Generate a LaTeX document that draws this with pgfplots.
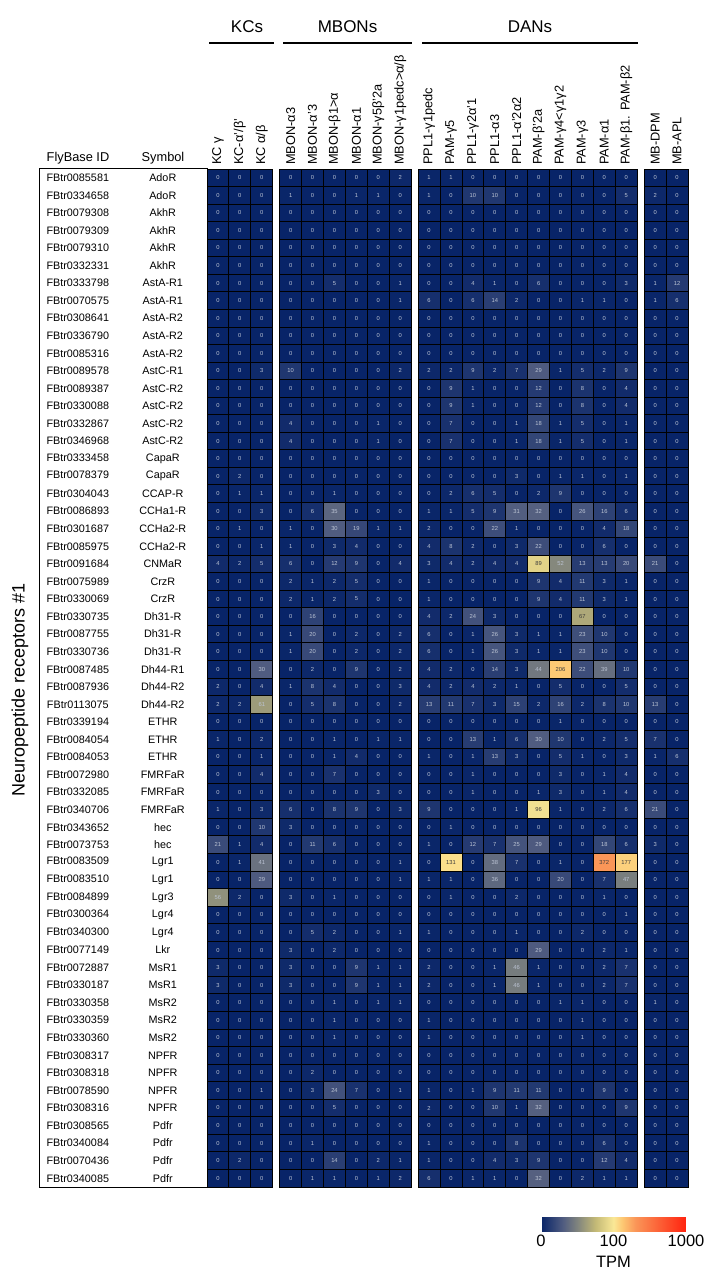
\documentclass[border=0pt]{standalone}
\usepackage{pgfplots}
\pgfplotsset{compat=1.18}
\usepackage{pgfplotstable}
\usepackage{fontspec}
\setmainfont{Liberation Sans}

\definecolor{celllight}{RGB}{188,196,212}
\definecolor{celldark}{RGB}{60,60,60}
\pgfplotsset{colormap={tpm}{[1pt] rgb255(0pt)=(8,36,104); rgb255(30pt)=(80,92,128); rgb255(50pt)=(128,132,126); rgb255(75pt)=(195,185,118); rgb255(100pt)=(250,232,150); rgb255(112pt)=(253,200,115); rgb255(130pt)=(250,150,88); rgb255(200pt)=(255,35,15)}}

\newcommand{\rl}[2]{\makebox[82pt][c]{#1}\makebox[88pt][c]{#2}}
\pgfdeclareplotmark{cell}{\pgfpathrectangle{\pgfpoint{-10.95pt}{-8.776pt}}{\pgfpoint{21.9pt}{17.552pt}}\pgfusepathqfillstroke}

% c0-c2: KCs; c3-c8: MBONs; c9-c18: DANs; c19-c20: MB-DPM, MB-APL
\pgfplotstableread{
id sym c0 c1 c2 c3 c4 c5 c6 c7 c8 c9 c10 c11 c12 c13 c14 c15 c16 c17 c18 c19 c20
FBtr0085581 AdoR 0 0 0 0 0 0 0 0 2 1 1 0 0 0 0 0 0 0 0 0 0
FBtr0334658 AdoR 0 0 0 1 0 0 1 1 0 1 0 10 10 0 0 0 0 0 5 2 0
FBtr0079308 AkhR 0 0 0 0 0 0 0 0 0 0 0 0 0 0 0 0 0 0 0 0 0
FBtr0079309 AkhR 0 0 0 0 0 0 0 0 0 0 0 0 0 0 0 0 0 0 0 0 0
FBtr0079310 AkhR 0 0 0 0 0 0 0 0 0 0 0 0 0 0 0 0 0 0 0 0 0
FBtr0332331 AkhR 0 0 0 0 0 0 0 0 0 0 0 0 0 0 0 0 0 0 0 0 0
FBtr0333798 AstA-R1 0 0 0 0 0 5 0 0 1 0 0 4 1 0 6 0 0 0 3 1 12
FBtr0070575 AstA-R1 0 0 0 0 0 0 0 0 1 6 0 6 14 2 0 0 1 1 0 1 6
FBtr0308641 AstA-R2 0 0 0 0 0 0 0 0 0 0 0 0 0 0 0 0 0 0 0 0 0
FBtr0336790 AstA-R2 0 0 0 0 0 0 0 0 0 0 0 0 0 0 0 0 0 0 0 0 0
FBtr0085316 AstA-R2 0 0 0 0 0 0 0 0 0 0 0 0 0 0 0 0 0 0 0 0 0
FBtr0089578 AstC-R1 0 0 3 10 0 0 0 0 2 2 2 9 2 7 29 1 5 2 9 0 0
FBtr0089387 AstC-R2 0 0 0 0 0 0 0 0 0 0 9 1 0 0 12 0 8 0 4 0 0
FBtr0330088 AstC-R2 0 0 0 0 0 0 0 0 0 0 9 1 0 0 12 0 8 0 4 0 0
FBtr0332867 AstC-R2 0 0 0 4 0 0 0 1 0 0 7 0 0 1 18 1 5 0 1 0 0
FBtr0346968 AstC-R2 0 0 0 4 0 0 0 1 0 0 7 0 0 1 18 1 5 0 1 0 0
FBtr0333458 CapaR 0 0 0 0 0 0 0 0 0 0 0 0 0 0 0 0 0 0 0 0 0
FBtr0078379 CapaR 0 2 0 0 0 0 0 0 0 0 0 0 0 3 0 1 1 0 1 0 0
FBtr0304043 CCAP-R 0 1 1 0 0 1 0 0 0 0 2 6 5 0 2 9 0 0 0 0 0
FBtr0086893 CCHa1-R 0 0 3 0 6 35 0 0 0 1 1 5 9 31 32 0 26 16 6 0 0
FBtr0301687 CCHa2-R 0 1 0 1 0 30 19 1 1 2 0 0 22 1 0 0 0 4 18 0 0
FBtr0085975 CCHa2-R 0 0 1 1 0 3 4 0 0 4 8 2 0 3 22 0 0 6 0 0 0
FBtr0091684 CNMaR 4 2 5 6 0 12 9 0 4 3 4 2 4 4 89 52 13 13 20 21 0
FBtr0075989 CrzR 0 0 0 2 1 2 5 0 0 1 0 0 0 0 9 4 11 3 1 0 0
FBtr0330069 CrzR 0 0 0 2 1 2 5 0 0 1 0 0 0 0 9 4 11 3 1 0 0
FBtr0330735 Dh31-R 0 0 0 0 16 0 0 0 0 4 2 24 3 0 0 0 67 0 0 0 0
FBtr0087755 Dh31-R 0 0 0 1 20 0 2 0 2 6 0 1 26 3 1 1 23 10 0 0 0
FBtr0330736 Dh31-R 0 0 0 1 20 0 2 0 2 6 0 1 26 3 1 1 23 10 0 0 0
FBtr0087485 Dh44-R1 0 0 30 0 2 0 9 0 2 4 2 0 14 3 44 206 22 39 10 0 0
FBtr0087936 Dh44-R2 2 0 4 1 8 4 0 0 3 4 2 4 2 1 0 5 0 0 5 0 0
FBtr0113075 Dh44-R2 2 2 61 0 5 8 0 0 2 13 11 7 3 15 2 16 2 8 10 13 0
FBtr0339194 ETHR 0 0 0 0 0 0 0 0 0 0 0 0 0 0 0 1 0 0 0 0 0
FBtr0084054 ETHR 1 0 2 0 0 1 0 1 1 0 0 13 1 6 30 10 0 2 5 7 0
FBtr0084053 ETHR 0 0 1 0 0 1 4 0 0 1 0 1 13 3 0 5 1 0 3 1 6
FBtr0072980 FMRFaR 0 0 4 0 0 7 0 0 0 0 0 1 0 0 0 3 0 1 4 0 0
FBtr0332085 FMRFaR 0 0 0 0 0 0 0 3 0 0 0 1 0 0 1 3 0 1 4 0 0
FBtr0340706 FMRFaR 1 0 3 6 0 8 9 0 3 9 0 0 0 1 96 1 0 2 6 21 0
FBtr0343652 hec 0 0 10 3 0 0 0 0 0 0 1 0 0 0 0 0 0 0 0 0 0
FBtr0073753 hec 21 1 4 0 11 6 0 0 0 1 0 12 7 25 29 0 0 18 6 3 0
FBtr0083509 Lgr1 0 1 41 0 0 0 0 0 1 0 131 0 38 7 0 1 0 372 177 0 0
FBtr0083510 Lgr1 0 0 29 0 0 0 0 0 1 1 1 0 36 0 0 20 0 7 47 0 0
FBtr0084899 Lgr3 56 2 0 3 0 1 0 0 0 0 1 0 0 2 0 0 0 1 0 0 0
FBtr0300364 Lgr4 0 0 0 0 0 0 0 0 0 0 0 0 0 0 0 0 0 0 1 0 0
FBtr0340300 Lgr4 0 0 0 0 5 2 0 0 1 1 0 0 0 1 0 0 2 0 0 0 0
FBtr0077149 Lkr 0 0 0 3 0 2 0 0 0 0 0 0 0 0 29 0 0 2 1 0 0
FBtr0072887 MsR1 3 0 0 3 0 0 9 1 1 2 0 0 1 46 1 0 0 2 7 0 0
FBtr0330187 MsR1 3 0 0 3 0 0 9 1 1 2 0 0 1 46 1 0 0 2 7 0 0
FBtr0330358 MsR2 0 0 0 0 0 1 0 1 1 0 0 0 0 0 0 1 1 0 0 1 0
FBtr0330359 MsR2 0 0 0 0 0 1 0 0 0 1 0 0 0 0 0 0 1 0 0 0 0
FBtr0330360 MsR2 0 0 0 0 0 1 0 0 0 1 0 0 0 0 0 0 1 0 0 0 0
FBtr0308317 NPFR 0 0 0 0 0 0 0 0 0 0 0 0 0 0 0 0 0 0 0 0 0
FBtr0308318 NPFR 0 0 0 0 2 0 0 0 0 0 0 0 0 0 0 0 0 0 0 0 0
FBtr0078590 NPFR 0 0 1 0 3 24 7 0 1 1 0 1 9 11 11 0 0 9 0 0 0
FBtr0308316 NPFR 0 0 0 0 0 5 0 0 0 2 0 0 10 1 32 0 0 0 9 0 0
FBtr0308565 Pdfr 0 0 0 0 0 0 0 0 0 0 0 0 0 0 0 0 0 0 0 0 0
FBtr0340084 Pdfr 0 0 0 0 1 0 0 0 0 1 0 0 0 8 0 0 0 6 0 0 0
FBtr0070436 Pdfr 0 2 0 0 0 14 0 2 1 1 0 0 4 3 9 0 0 12 4 0 0
FBtr0340085 Pdfr 0 0 0 0 1 1 0 1 2 6 0 1 1 0 32 0 2 1 1 0 0
}\data

\pgfplotsset{
  cellnum/.style={draw=none, mark=none, point meta=explicit symbolic,
    nodes near coords={\pgfmathtruncatemacro\hv{\pgfplotspointmeta>65}\ifnum\hv=1 \color{celldark}\else\color{celllight}\fi\pgfplotspointmeta},
    nodes near coords align={center},
    every node near coord/.append style={anchor=center, inner sep=0pt, font=\fontsize{5.8}{6}\selectfont}},
  cellmap/.style={scatter, only marks, mark=cell, point meta=explicit,
    scatter/use mapped color={draw=black, fill=mapped color},
    mark options={line width=0.9pt}}
}

\begin{document}
\begin{tikzpicture}
\useasboundingbox (0,0) rectangle (721pt,-1279pt);
\begin{axis}[
  at={(207pt,-169pt)}, anchor=north west,
  scale only axis, width=481pt, height=1018pt,
  xmin=-0.5, xmax=21.46, ymin=-0.5, ymax=57.5,
  y dir=reverse, enlargelimits=false, clip=false,
  axis line style={draw=none}, major tick length=0pt,
  colormap name=tpm, point meta min=0, point meta max=2,
  xtick={0,1,2,3.32,4.32,5.32,6.32,7.32,8.32,9.64,10.64,11.64,12.64,13.64,14.64,15.64,16.64,17.64,18.64,19.96,20.96},
  xticklabels={{KC γ},{KC-α'/β'},{KC α/β},{MBON-α3},{MBON-α'3},{MBON-β1>α},{MBON-α1},{MBON-γ5β'2a},{MBON-γ1pedc>α/β},{PPL1-γ1pedc},{PAM-γ5},{PPL1-γ2α'1},{PPL1-α3},{PPL1-α'2α2},{PAM-β'2a},{PAM-γ4<γ1γ2},{PAM-γ3},{PAM-α1},{PAM-β1. PAM-β2},{MB-DPM},{MB-APL}},
  xticklabel pos=upper,
  xticklabel style={rotate=90, anchor=west, inner sep=0pt, font=\fontsize{12.8}{14}\selectfont},
  xticklabel shift=4pt,
  ytick={0,...,57},
  yticklabels={\rl{FBtr0085581}{AdoR},\rl{FBtr0334658}{AdoR},\rl{FBtr0079308}{AkhR},\rl{FBtr0079309}{AkhR},\rl{FBtr0079310}{AkhR},\rl{FBtr0332331}{AkhR},\rl{FBtr0333798}{AstA-R1},\rl{FBtr0070575}{AstA-R1},\rl{FBtr0308641}{AstA-R2},\rl{FBtr0336790}{AstA-R2},\rl{FBtr0085316}{AstA-R2},\rl{FBtr0089578}{AstC-R1},\rl{FBtr0089387}{AstC-R2},\rl{FBtr0330088}{AstC-R2},\rl{FBtr0332867}{AstC-R2},\rl{FBtr0346968}{AstC-R2},\rl{FBtr0333458}{CapaR},\rl{FBtr0078379}{CapaR},\rl{FBtr0304043}{CCAP-R},\rl{FBtr0086893}{CCHa1-R},\rl{FBtr0301687}{CCHa2-R},\rl{FBtr0085975}{CCHa2-R},\rl{FBtr0091684}{CNMaR},\rl{FBtr0075989}{CrzR},\rl{FBtr0330069}{CrzR},\rl{FBtr0330735}{Dh31-R},\rl{FBtr0087755}{Dh31-R},\rl{FBtr0330736}{Dh31-R},\rl{FBtr0087485}{Dh44-R1},\rl{FBtr0087936}{Dh44-R2},\rl{FBtr0113075}{Dh44-R2},\rl{FBtr0339194}{ETHR},\rl{FBtr0084054}{ETHR},\rl{FBtr0084053}{ETHR},\rl{FBtr0072980}{FMRFaR},\rl{FBtr0332085}{FMRFaR},\rl{FBtr0340706}{FMRFaR},\rl{FBtr0343652}{hec},\rl{FBtr0073753}{hec},\rl{FBtr0083509}{Lgr1},\rl{FBtr0083510}{Lgr1},\rl{FBtr0084899}{Lgr3},\rl{FBtr0300364}{Lgr4},\rl{FBtr0340300}{Lgr4},\rl{FBtr0077149}{Lkr},\rl{FBtr0072887}{MsR1},\rl{FBtr0330187}{MsR1},\rl{FBtr0330358}{MsR2},\rl{FBtr0330359}{MsR2},\rl{FBtr0330360}{MsR2},\rl{FBtr0308317}{NPFR},\rl{FBtr0308318}{NPFR},\rl{FBtr0078590}{NPFR},\rl{FBtr0308316}{NPFR},\rl{FBtr0308565}{Pdfr},\rl{FBtr0340084}{Pdfr},\rl{FBtr0070436}{Pdfr},\rl{FBtr0340085}{Pdfr}},
  yticklabel style={anchor=east, inner sep=0pt, font=\fontsize{10.8}{12}\selectfont},
  colorbar horizontal,
  colorbar style={
    at={(parent axis.south east)}, anchor=north east, xshift=-2pt, yshift=-10pt,
    scale only axis, width=145pt, height=26pt,
    axis line style={draw=none}, major tick length=0pt,
    xtick={0,1,2}, xticklabels={0,100,1000},
    xticklabel style={font=\fontsize{16.5}{18}\selectfont},
    xlabel={TPM}, xlabel style={font=\fontsize{16.5}{18}\selectfont, yshift=-3pt}
  }
]
\pgfplotsinvokeforeach{0,...,20}{
  \addplot[cellmap] table[x expr={#1+0.32*((#1>2)+(#1>8)+(#1>18))}, y expr=\coordindex, meta expr={min(\thisrow{c#1},100)/100+max(\thisrow{c#1}-100,0)/900}] {\data};
}
\pgfplotsinvokeforeach{0,...,20}{
  \addplot[cellnum] table[x expr={#1+0.32*((#1>2)+(#1>8)+(#1>18))}, y expr=\coordindex, meta=c#1] {\data};
}
\end{axis}

% left table frame and headers
\draw[line width=1pt] (39pt,-168.5pt) rectangle (207pt,-1187pt);
\node[anchor=base, font=\fontsize{12.8}{14}\selectfont] at (78pt,-161pt) {FlyBase ID};
\node[anchor=base, font=\fontsize{12.8}{14}\selectfont] at (163pt,-161pt) {Symbol};
\node[rotate=90, font=\fontsize{18}{20}\selectfont] at (20pt,-690pt) {Neuropeptide receptors \#1};

% group headers
\draw[line width=2pt] (209pt,-43pt) -- (274pt,-43pt);
\draw[line width=2pt] (283pt,-43pt) -- (412pt,-43pt);
\draw[line width=2pt] (422pt,-43pt) -- (638pt,-43pt);
\node[anchor=base, font=\fontsize{17}{20}\selectfont] at (247pt,-33pt) {KCs};
\node[anchor=base, font=\fontsize{17}{20}\selectfont] at (347.5pt,-33pt) {MBONs};
\node[anchor=base, font=\fontsize{17}{20}\selectfont] at (530pt,-33pt) {DANs};
\end{tikzpicture}
\end{document}
